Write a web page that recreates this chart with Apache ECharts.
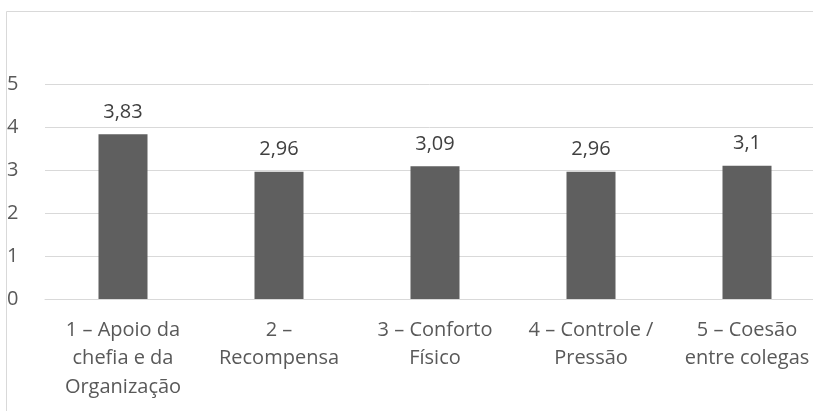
<!DOCTYPE html>
<html>
<head>
<meta charset="utf-8">
<script src="https://cdn.jsdelivr.net/npm/echarts@6/dist/echarts.min.js"></script>
<style>
  html, body { margin: 0; padding: 0; background: #fff; }
  #chart { width: 813px; height: 411px; }
</style>
</head>
<body>
<div id="chart"></div>
<script>
// categorias e médias
var categorias = ['1 – Apoio da\nchefia e da\nOrganização', '2 –\nRecompensa', '3 – Conforto\nFísico', '4 – Controle /\nPressão', '5 – Coesão\nentre colegas'];
var medias = [3.83, 2.96, 3.09, 2.96, 3.1];

var fonte = '"Open Sans", "DejaVu Sans", sans-serif';

var myChart = echarts.init(document.getElementById('chart'));

var option = {
    animation: false,
    backgroundColor: '#fff',
    graphic: [
        {
            type: 'rect',
            shape: { x: 6.5, y: 11.5, width: 900, height: 500 },
            style: { fill: 'none', stroke: '#d9d9d9', lineWidth: 1 },
            silent: true
        }
    ],
    grid: { left: 45, right: -12, top: 84, bottom: 112, containLabel: false, outerBoundsMode: 'none' },
    xAxis: {
        type: 'category',
        data: categorias,
        axisLine: { lineStyle: { color: '#d9d9d9', width: 1 } },
        axisTick: { show: false },
        axisLabel: {
            color: '#595959',
            fontFamily: fonte,
            fontSize: 20,
            lineHeight: 28.5,
            margin: 17,
            interval: 0
        }
    },
    yAxis: {
        type: 'value',
        min: 0,
        max: 5,
        interval: 1,
        axisLine: { show: false },
        axisTick: { show: false },
        splitLine: { lineStyle: { color: '#d9d9d9', width: 1 } },
        axisLabel: {
            color: '#595959',
            fontFamily: fonte,
            fontSize: 20,
            align: 'left',
            margin: 38
        }
    },
    series: [
        {
            type: 'bar',
            data: medias,
            barWidth: 49,
            itemStyle: { color: '#5f5f5f' },
            label: {
                show: true,
                position: 'top',
                distance: 12,
                color: '#404040',
                fontFamily: fonte,
                fontSize: 20,
                formatter: function (p) {
                    return String(p.value).replace('.', ',');
                }
            }
        }
    ]
};

myChart.setOption(option);
</script>
</body>
</html>
